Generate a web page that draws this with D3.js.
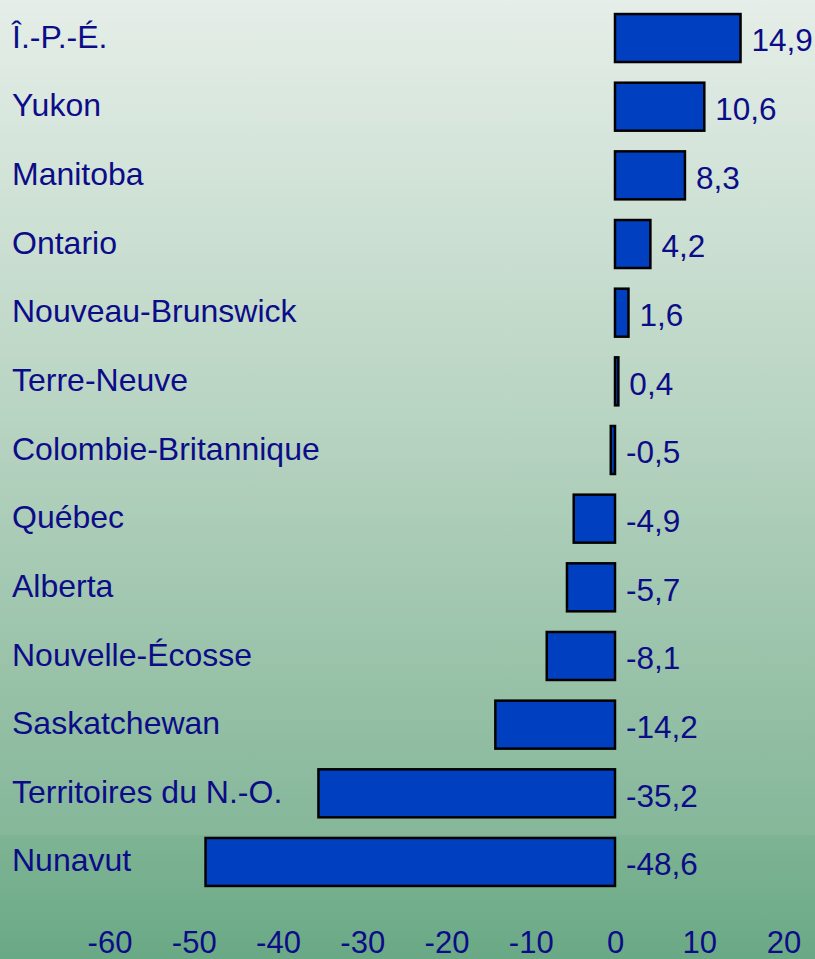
<!DOCTYPE html>
<html>
<head>
<meta charset="utf-8">
<script src="https://cdn.jsdelivr.net/npm/d3@7"></script>
<style>
  html, body { margin: 0; padding: 0; overflow: hidden; }
  svg { display: block; }
</style>
</head>
<body>
<div id="chart"></div>
<script>
// provinces, top to bottom
var provinces = ["Î.-P.-É.", "Yukon", "Manitoba", "Ontario", "Nouveau-Brunswick",
	"Terre-Neuve", "Colombie-Britannique", "Québec", "Alberta", "Nouvelle-Écosse",
	"Saskatchewan", "Territoires du N.-O.", "Nunavut"];
var values = [14.9, 10.6, 8.3, 4.2, 1.6, 0.4, -0.5, -4.9, -5.7, -8.1, -14.2, -35.2, -48.6];
var ticks = [-60, -50, -40, -30, -20, -10, 0, 10, 20];

var w = 815;
var h = 959;
var textCol = "#0c0c88";
var font = "'Liberation Sans', Arial, sans-serif";
var fmt = d => String(d).replace(".", ",");

var svg = d3.select("#chart")
			.append("svg")
			.attr("width", w)
			.attr("height", h);

// background (two slightly different green panels)
var defs = svg.append("defs");
var g1 = defs.append("linearGradient").attr("id", "bg1")
			.attr("x1", 0).attr("y1", 0).attr("x2", 0).attr("y2", 1);
g1.append("stop").attr("offset", "0").attr("stop-color", "#e5eee8");
g1.append("stop").attr("offset", "0.5").attr("stop-color", "#b8d4c2");
g1.append("stop").attr("offset", "1").attr("stop-color", "#85b799");
var g2 = defs.append("linearGradient").attr("id", "bg2")
			.attr("x1", 0).attr("y1", 0).attr("x2", 0).attr("y2", 1);
g2.append("stop").attr("offset", "0").attr("stop-color", "#7eb494");
g2.append("stop").attr("offset", "1").attr("stop-color", "#6aa985");

svg.append("rect").attr("width", w).attr("height", 835).attr("fill", "url(#bg1)");
svg.append("rect").attr("y", 835).attr("width", w).attr("height", h - 835).attr("fill", "url(#bg2)");

var x = d3.scaleLinear()
		  .domain([-60, 20])
		  .range([109.5, 783.5]);

var y = d3.scaleBand()
		  .domain(provinces)
		  .range([3.7, 896.3])
		  .paddingInner(0.272)
		  .paddingOuter(0.136);

var data = provinces.map((p, i) => ({name: p, value: values[i]}));

// bars
svg.selectAll("rect.bar")
	.data(data)
	.enter()
	.append("rect")
	.attr("class", "bar")
	.attr("x", d => x(Math.min(0, d.value)))
	.attr("y", d => y(d.name) + 1)
	.attr("width", d => Math.abs(x(d.value) - x(0)))
	.attr("height", y.bandwidth() - 2)
	.attr("fill", "#0040c0")
	.attr("stroke", "black")
	.attr("stroke-width", 2.5);

// province names
svg.selectAll("text.name")
	.data(data)
	.enter()
	.append("text")
	.attr("class", "name")
	.attr("x", 12)
	.attr("y", d => y(d.name) + y.bandwidth() / 2 - 2)
	.attr("dy", "0.36em")
	.attr("font-family", font)
	.attr("font-size", 32)
	.attr("fill", textCol)
	.text(d => d.name);

// value labels
svg.selectAll("text.val")
	.data(data)
	.enter()
	.append("text")
	.attr("class", "val")
	.attr("x", d => x(Math.max(0, d.value)) + 11)
	.attr("y", d => y(d.name) + y.bandwidth() / 2 + 2)
	.attr("dy", "0.36em")
	.attr("font-family", font)
	.attr("font-size", 31.5)
	.attr("fill", textCol)
	.text(d => fmt(d.value));

// x axis (labels only)
var xAxis = d3.axisBottom(x)
			  .tickValues(ticks)
			  .tickSize(0)
			  .tickPadding(0)
			  .tickFormat(d => String(d));

var ax = svg.append("g")
			.attr("transform", "translate(0,931)")
			.call(xAxis);
ax.select(".domain").remove();
ax.selectAll("text")
	.attr("dy", "0.72em")
	.attr("font-family", font)
	.attr("font-size", 31)
	.attr("fill", textCol);
</script>
</body>
</html>
